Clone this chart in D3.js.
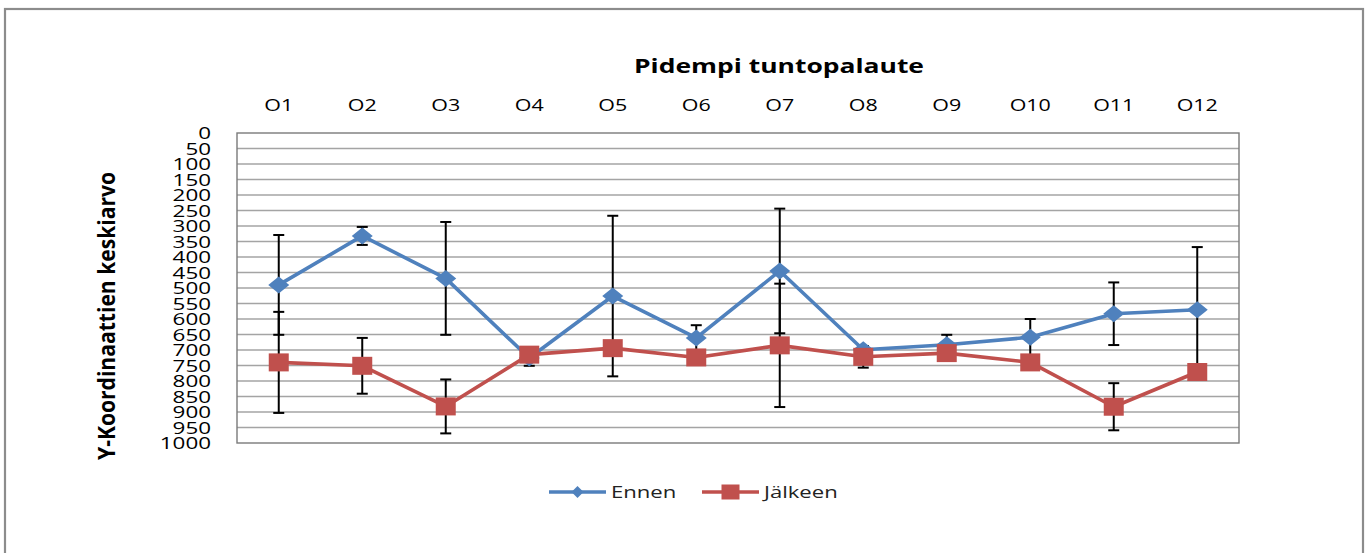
<!DOCTYPE html>
<html>
<head>
<meta charset="utf-8">
<script src="https://cdn.jsdelivr.net/npm/d3@7"></script>
<style>
    body { margin: 0; background: #fff; }
    svg { display: block; font-family: 'Open Sans', sans-serif; }
</style>
</head>
<body>
<div id="chart-container"></div>
<script>
const categories = ['O1', 'O2', 'O3', 'O4', 'O5', 'O6', 'O7', 'O8', 'O9', 'O10', 'O11', 'O12']
const yTicks = [0, 50, 100, 150, 200, 250, 300, 350, 400, 450, 500, 550, 600, 650, 700, 750, 800, 850, 900, 950, 1000]

// means and error (+/-)
const ennenValues = [490, 332, 469, 726, 526, 661, 445, 699, 683, 659, 583, 570]
const ennenErrors = [161, 29, 182, 25, 259, 41, 201, 12, 32, 59, 101, 202]
const jalkeenValues = [740, 751, 882, 715, 694, 724, 685, 722, 710, 740, 883, 771]
const jalkeenErrors = [163, 90, 87, 10, 15, 12, 199, 35, 12, 15, 76, 15]

const seriesNames = ['Ennen', 'Jälkeen']
const seriesColors = ['#4F81BD', '#C0504D']

const renderChart = () => {

    const svgWidth = 1371
    const svgHeight = 553
    const sx = 1.3 //the original picture is stretched sideways, so the text is too

    const plot = { left: 237, right: 1239, top: 133, bottom: 443 }

    const series = seriesNames.map((name, i) => ({
        name: name,
        color: seriesColors[i],
        marker: i === 0 ? 'diamond' : 'square',
        points: categories.map((c, j) => ({
            cat: c,
            value: i === 0 ? ennenValues[j] : jalkeenValues[j],
            err: i === 0 ? ennenErrors[j] : jalkeenErrors[j]
        }))
    }))

    const xScale = d3.scaleBand()
        .domain(categories)
        .range([plot.left, plot.right])

    const xCenter = c => xScale(c) + xScale.bandwidth() / 2

    const yScale = d3.scaleLinear() //0 is on top, 1000 at the bottom
        .domain([0, 1000])
        .range([plot.top, plot.bottom])

    const svg = d3.select('#chart-container')
        .append('svg')
            .attr('width', svgWidth)
            .attr('height', svgHeight)

    //outer frame of the chart
    svg.append('rect')
        .attr('x', 5)
        .attr('y', 9)
        .attr('width', 1358)
        .attr('height', 560)
        .attr('fill', 'none')
        .attr('stroke', '#8c8c8c')
        .attr('stroke-width', 2.2)

    //gridlines
    svg.append('g')
        .selectAll('line')
        .data(yTicks.filter(t => t > 0 && t < 1000))
        .enter()
        .append('line')
            .attr('x1', plot.left)
            .attr('x2', plot.right)
            .attr('y1', d => yScale(d))
            .attr('y2', d => yScale(d))
            .attr('stroke', '#a4a4a4')
            .attr('stroke-width', 1.3)

    //plot border
    svg.append('rect')
        .attr('x', plot.left)
        .attr('y', plot.top)
        .attr('width', plot.right - plot.left)
        .attr('height', plot.bottom - plot.top)
        .attr('fill', 'none')
        .attr('stroke', '#7a7a7a')
        .attr('stroke-width', 1.4)

    //y axis, labels only
    const yAxis = d3.axisLeft(yScale)
        .tickValues(yTicks)
        .tickFormat(d3.format('d'))
        .tickSize(0)

    const yAxisG = svg.append('g')
        .attr('transform', `translate(${plot.left - 26}, 0)`)
        .call(yAxis)

    yAxisG.select('.domain').remove()
    yAxisG.selectAll('text')
        .attr('x', 0)
        .attr('dy', '0.36em')
        .attr('transform', 'scale(1.4,1)')
        .style('font-family', "'Open Sans', sans-serif")
        .style('font-size', '16px')
        .attr('fill', '#000')

    //category axis on top
    const xAxis = d3.axisTop(xScale)
        .tickSize(0)

    const xAxisG = svg.append('g')
        .attr('transform', `translate(0, 111)`)
        .call(xAxis)

    xAxisG.select('.domain').remove()
    xAxisG.selectAll('.tick text')
        .attr('y', 0)
        .attr('dy', 0)
        .attr('transform', `scale(${sx},1)`)
        .style('font-family', "'Open Sans', sans-serif")
        .style('font-size', '16.5px')
        .attr('fill', '#000')

    //title
    svg.append('text')
        .attr('x', 779)
        .attr('y', 73)
        .attr('text-anchor', 'middle')
        .attr('textLength', 290)
        .attr('lengthAdjust', 'spacingAndGlyphs')
        .style('font-size', '20px')
        .style('font-weight', 'bold')
        .text('Pidempi tuntopalaute')

    //y axis title
    svg.append('text')
        .attr('transform', `translate(115, 316) rotate(-90) scale(1, ${sx})`)
        .attr('text-anchor', 'middle')
        .attr('textLength', 288)
        .attr('lengthAdjust', 'spacingAndGlyphs')
        .style('font-size', '18px')
        .style('font-weight', 'bold')
        .text('Y-Koordinaattien keskiarvo')

    //error bars
    const capHalf = 5.5
    series.forEach(s => {
        const bars = svg.append('g')
            .selectAll('g')
            .data(s.points)
            .enter()
            .append('g')
                .attr('stroke', '#000')
                .attr('stroke-width', 2)

        bars.append('line')
            .attr('x1', d => xCenter(d.cat))
            .attr('x2', d => xCenter(d.cat))
            .attr('y1', d => yScale(d.value - d.err))
            .attr('y2', d => yScale(d.value + d.err))

        bars.append('line')
            .attr('x1', d => xCenter(d.cat) - capHalf)
            .attr('x2', d => xCenter(d.cat) + capHalf)
            .attr('y1', d => yScale(d.value - d.err))
            .attr('y2', d => yScale(d.value - d.err))

        bars.append('line')
            .attr('x1', d => xCenter(d.cat) - capHalf)
            .attr('x2', d => xCenter(d.cat) + capHalf)
            .attr('y1', d => yScale(d.value + d.err))
            .attr('y2', d => yScale(d.value + d.err))
    })

    const line = d3.line()
        .x(d => xCenter(d.cat))
        .y(d => yScale(d.value))

    const drawMarker = (sel, type, color, w, h) => {
        if (type === 'diamond') {
            sel.append('path')
                .attr('d', `M0,${-h / 2}L${w / 2},0L0,${h / 2}L${-w / 2},0Z`)
                .attr('fill', color)
        } else {
            sel.append('rect')
                .attr('x', -w / 2)
                .attr('y', -h / 2)
                .attr('width', w)
                .attr('height', h)
                .attr('fill', color)
        }
    }

    //lines and markers, one series after the other
    series.forEach(s => {
        svg.append('path')
            .datum(s.points)
            .attr('d', line)
            .attr('fill', 'none')
            .attr('stroke', s.color)
            .attr('stroke-width', 3.6)
            .attr('stroke-linejoin', 'round')

        svg.append('g')
            .selectAll('g')
            .data(s.points)
            .enter()
            .append('g')
                .attr('transform', d => `translate(${xCenter(d.cat)}, ${yScale(d.value)})`)
                .each(function() {
                    if (s.marker === 'diamond') drawMarker(d3.select(this), 'diamond', s.color, 21, 17)
                    else drawMarker(d3.select(this), 'square', s.color, 20, 18)
                })
    })

    //legend
    const legendX = [549, 702]
    const legend = svg.append('g')
        .selectAll('g')
        .data(series)
        .enter()
        .append('g')
            .attr('transform', (d, i) => `translate(${legendX[i]}, 492)`)

    legend.append('line')
        .attr('x1', 0)
        .attr('x2', 57)
        .attr('stroke', d => d.color)
        .attr('stroke-width', 3.6)

    legend.each(function(d) {
        const m = d3.select(this).append('g').attr('transform', 'translate(28.5, 0)')
        if (d.marker === 'diamond') drawMarker(m, 'diamond', d.color, 12, 12)
        else drawMarker(m, 'square', d.color, 18, 15)
    })

    legend.append('text')
        .attr('x', 62 / sx)
        .attr('dy', '0.36em')
        .attr('transform', `scale(${sx},1)`)
        .style('font-size', '17px')
        .attr('fill', '#222')
        .text(d => d.name)
}

renderChart()
</script>
</body>
</html>
